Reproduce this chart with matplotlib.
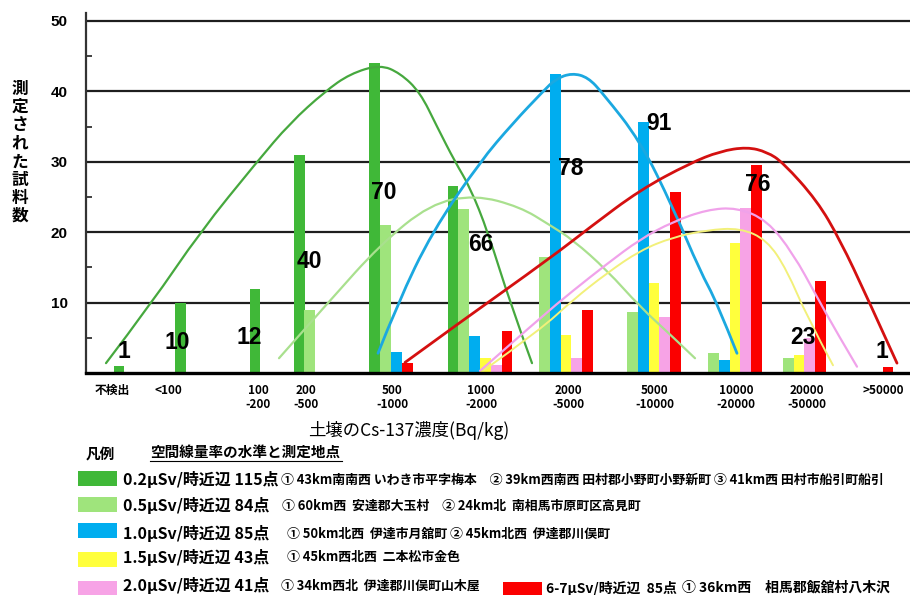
import matplotlib
matplotlib.use("Agg")
import matplotlib.pyplot as plt
from matplotlib.patches import Rectangle, PathPatch
from matplotlib.path import Path
from matplotlib.lines import Line2D
from matplotlib.ticker import MultipleLocator

plt.rcParams['font.family'] = ['Noto Sans CJK JP', 'DejaVu Sans']

# categories (soil Cs-137, Bq/kg)
categories = ["不検出", "<100", "100\n-200", "200\n-500", "500\n-1000", "1000\n-2000",
              "2000\n-5000", "5000\n-10000", "10000\n-20000", "20000\n-50000", ">50000"]

# sample counts per dose-rate level
s02 = [1, 10, 12, 31, 44, 26.5, 0, 0, 0, 0, 0]
s05 = [0, 0, 0, 9, 21, 23.3, 16.5, 8.7, 2.9, 2.1, 0]
s10 = [0, 0, 0, 0, 3, 5.2, 42.5, 35.7, 1.9, 0, 0]
s15 = [0, 0, 0, 0, 0, 2.1, 5.4, 12.8, 18.5, 2.6, 0]
s20 = [0, 0, 0, 0, 0, 1.1, 2.1, 8.0, 23.4, 5.0, 0]
s67 = [0, 0, 0, 0, 1.4, 6.0, 8.9, 25.7, 29.6, 13.0, 0.8]

# totals written above the groups
totals = [1, 10, 12, 40, 70, 66, 78, 91, 76, 23, 1]

# hand drawn trend curves (x in chart px units, y in counts)
c02_x = [106, 152, 200, 257, 290, 325, 350, 380, 400, 420, 437, 455, 470, 488, 510, 532]
c02_y = [1.4, 10, 20, 30, 35.5, 40, 42.5, 43.8, 42.6, 39.9, 35, 30, 26.4, 20, 10, 1.4]
c05_x = [279, 330, 380, 430, 475, 520, 550, 573, 607, 640, 673, 695]
c05_y = [2.1, 10.3, 18.2, 24, 25.3, 23.6, 21, 18.9, 14.6, 9.4, 5.1, 2.1]
c10_x = [378, 398, 432, 480, 513, 543, 556, 572, 588, 603, 640, 673, 700, 717, 737]
c10_y = [2.8, 10, 20, 30, 35.5, 40, 41.8, 42.6, 42, 39.7, 33, 23.5, 14.5, 10, 2.8]
c15_x = [483, 540, 573, 607, 640, 673, 707, 740, 767, 787, 807, 833]
c15_y = [0.3, 6.1, 10.4, 14.2, 17.4, 19.3, 20.3, 20.6, 18.9, 14.6, 8, 1.1]
c20_x = [480, 540, 573, 607, 640, 673, 707, 737, 767, 793, 817, 837, 857]
c20_y = [0.3, 7.8, 11.7, 15.5, 19, 21.5, 23.2, 23.5, 21.7, 17, 10.8, 5.7, 0.9]
c67_x = [405, 460, 550, 590, 640, 690, 720, 747, 767, 783, 817, 840, 867, 897]
c67_y = [1.5, 7.2, 16.3, 20.7, 26, 29.8, 31.5, 32.1, 31.4, 29.9, 24.5, 18.9, 10.8, 1.4]

legend_head = ["0.2μSv/時近辺 115点", "0.5μSv/時近辺 84点", "1.0μSv/時近辺 85点",
               "1.5μSv/時近辺 43点", "2.0μSv/時近辺 41点", "6-7μSv/時近辺  85点"]
legend_place = ["① 43km南南西 いわき市平字梅本　② 39km西南西 田村郡小野町小野新町 ③ 41km西 田村市船引町船引",
                "① 60km西  安達郡大玉村　② 24km北  南相馬市原町区高見町",
                "① 50km北西  伊達市月舘町 ② 45km北西  伊達郡川俣町",
                "① 45km西北西  二本松市金色",
                "① 34km西北  伊達郡川俣町山木屋",
                "① 36km西　相馬郡飯舘村八木沢"]

# layout (px of the 910x595 canvas)
W, H = 910, 595
group_x = [119, 180.5, 255, 304.5, 391, 480, 566, 654, 735, 804.5, 888]
label_x = [112, 168, 258, 306, 392, 481, 568, 655, 736, 807, 883]
ann_x = [124, 177, 249, 309, 384, 481, 571, 659, 758, 803, 882]
ann_y = [3.0, 4.3, 5.1, 15.9, 25.7, 18.3, 29.0, 35.4, 26.8, 5.1, 3.1]
bar_w = 10.8

bar_cols = ["#40b838", "#9fe47c", "#00adef", "#ffff3c", "#f7a3e6", "#fb0000"]
line_cols = ["#46a83e", "#a9e08e", "#1ba8e0", "#f2f07a", "#f0a2ea", "#d41010"]
line_w = [1.6, 1.6, 2.0, 1.4, 1.6, 2.0]

series = [s02, s05, s10, s15, s20, s67]
curves = [(c02_x, c02_y), (c05_x, c05_y), (c10_x, c10_y),
          (c15_x, c15_y), (c20_x, c20_y), (c67_x, c67_y)]


def smooth_path(xs, ys):
    # quadratic bezier through the read points (points act as control points)
    verts = [(xs[0], ys[0])]
    codes = [Path.MOVETO]
    n = len(xs)
    for i in range(1, n - 1):
        verts.append((xs[i], ys[i]))
        if i < n - 2:
            verts.append(((xs[i] + xs[i+1]) / 2, (ys[i] + ys[i+1]) / 2))
        else:
            verts.append((xs[-1], ys[-1]))
        codes += [Path.CURVE3, Path.CURVE3]
    return Path(verts, codes)


fig = plt.figure(figsize=(9.1, 5.95), dpi=100)
ax = fig.add_axes([86/W, (H-373)/H, (W-86)/W, 360/H])
ax.set_xlim(86, 910)
ax.set_ylim(0, 360/7.04)

# bars: only the non-empty ones of each group, packed side by side
for g in range(len(categories)):
    present = [k for k in range(len(series)) if series[k][g] > 0]
    n = len(present)
    for j, k in enumerate(present):
        ax.bar(group_x[g] + (j - (n-1)/2)*bar_w, series[k][g], width=bar_w,
               color=bar_cols[k], zorder=3, linewidth=0)

for k, (cx, cy) in enumerate(curves):
    ax.add_patch(PathPatch(smooth_path(cx, cy), facecolor='none', edgecolor=line_cols[k],
                           lw=line_w[k], zorder=4, capstyle='round', joinstyle='round'))

for i in range(len(totals)):
    ax.text(ann_x[i], ann_y[i], str(totals[i]), ha='center', va='center',
            fontsize=16.5, fontweight='bold', family='Liberation Sans', zorder=5)

for v in range(10, 60, 10):
    ax.axhline(v, color="#1e1e1e", lw=1.6, zorder=1)

for s in ['top', 'right']:
    ax.spines[s].set_visible(False)
ax.spines['left'].set_linewidth(1.6)
ax.spines['left'].set_color('#333333')
ax.spines['bottom'].set_linewidth(2.4)
ax.spines['bottom'].set_zorder(6)

ax.yaxis.set_minor_locator(MultipleLocator(5))
ax.set_yticks([10, 20, 30, 40, 50])
ax.set_yticklabels(["10", "20", "30", "40", "50"], fontweight='bold',
                   family='Liberation Sans', fontsize=11)
ax.tick_params(axis='y', which='major', length=0, pad=13)
ax.tick_params(axis='y', which='minor', length=4, width=1.3, direction='in', color='#333333')

ax.set_xticks(label_x)
ax.set_xticklabels(categories, fontsize=8.5, fontweight='bold', linespacing=1.05)
ax.tick_params(axis='x', length=0, pad=8)

# vertical axis title
ylab = "測定された試料数"
for i, ch in enumerate(ylab):
    fig.text(20/W, 1 - (89 + i*18.1)/H, ch, ha='center', va='center',
             fontsize=12, fontweight='bold')

fig.text(409/W, 1 - 431/H, "土壌のCs-137濃度(Bq/kg)", ha='center', va='center', fontsize=12.5)

# legend block
fig.text(86/W, 1 - 453/H, "凡例", ha='left', va='center', fontsize=10.5, fontweight='bold')
fig.text(150/W, 1 - 452/H, "空間線量率の水準と測定地点", ha='left', va='center',
         fontsize=10.5, fontweight='bold')
fig.add_artist(Line2D([150/W, 342/W], [1 - 461/H, 1 - 461/H], color='black', lw=0.8))

rect_x = [78, 78, 78, 78, 78, 503]
rect_y = [471, 497, 523, 552, 581, 582]
head_x = [123, 123, 123, 123, 123, 546]
head_y = [480, 506, 534, 557, 586, 588]
head_fs = [11.5, 11.5, 11.5, 11.5, 11.5, 10]
place_x = [281, 282, 287, 287, 281, 682]
place_fs = [9.3, 9.3, 9.3, 9.3, 9.3, 10]
for i in range(6):
    fig.add_artist(Rectangle((rect_x[i]/W, 1 - (rect_y[i] + 15)/H), 39/W, 15/H,
                             transform=fig.transFigure, color=bar_cols[i], lw=0))
    fig.text(head_x[i]/W, 1 - head_y[i]/H, legend_head[i], ha='left', va='center',
             fontsize=head_fs[i], fontweight='bold')
    fig.text(place_x[i]/W, 1 - head_y[i]/H, legend_place[i], ha='left', va='center',
             fontsize=place_fs[i], fontweight='bold')

fig.savefig("out.png", dpi=100)
